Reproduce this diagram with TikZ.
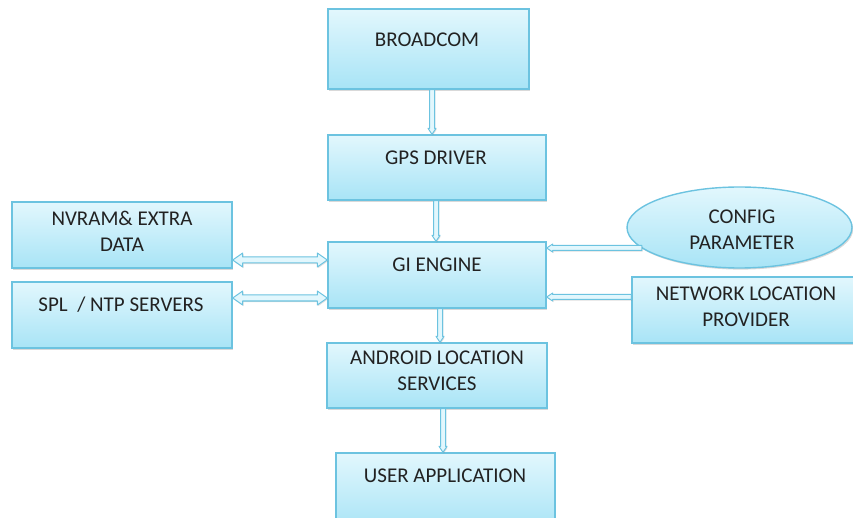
\documentclass[tikz,border=0pt]{standalone}
\usepackage{fontspec}
\setmainfont{Carlito}
\usetikzlibrary{shapes.geometric,shadows,calc}
\definecolor{bordc}{HTML}{6CC3E0}
\definecolor{topc}{HTML}{E2F7FD}
\definecolor{botc}{HTML}{A8E4F6}
\definecolor{txtc}{HTML}{222222}
\tikzset{
  box/.style={draw=bordc, line width=1.4pt, top color=topc, bottom color=botc, inner sep=0pt,
    drop shadow={shadow xshift=1.2pt,shadow yshift=-1.6pt,opacity=0.3}},
  lbl/.style={font=\fontsize{21}{26}\selectfont, text=txtc, align=center, inner sep=0pt},
  conn/.style={draw=bordc, line width=1pt, fill=topc, line join=round,
    drop shadow={shadow xshift=0.8pt,shadow yshift=-1.2pt,opacity=0.25}}
}
% vertical connector: x (screen px), from node, to node
\newcommand\vconn[3]{%
  \path[conn] let \p1=(#2.south), \p2=(#3.north) in
    ({(#1-2.5)*1pt},\y1) -- ({(#1+2.5)*1pt},\y1) -- ({(#1+2.5)*1pt},{\y2+6pt})
    -- ({(#1+4)*1pt},{\y2+6pt}) -- ({#1*1pt},\y2) -- ({(#1-4)*1pt},{\y2+6pt})
    -- ({(#1-2.5)*1pt},{\y2+6pt}) -- cycle;}
% horizontal double-headed block arrow: y (screen px), left node, right node
\newcommand\hdouble[3]{%
  \path[conn] let \p1=(#2.east), \p2=(#3.west), \n1={-#1*1pt} in
    (\x1,\n1) -- ({\x1+10pt},{\n1+7pt}) -- ({\x1+10pt},{\n1+3pt}) -- ({\x2-10pt},{\n1+3pt})
    -- ({\x2-10pt},{\n1+7pt}) -- (\x2,\n1) -- ({\x2-10pt},{\n1-7pt}) -- ({\x2-10pt},{\n1-3pt})
    -- ({\x1+10pt},{\n1-3pt}) -- ({\x1+10pt},{\n1-7pt}) -- cycle;}
% horizontal connector with head pointing left into node #2, from point #3
\newcommand\hleft[3]{%
  \path[conn] let \p1=(#2.east), \p2=(#3), \n1={-#1*1pt} in
    (\x1,\n1) -- ({\x1+6pt},{\n1+4pt}) -- ({\x1+6pt},{\n1+2.5pt}) -- (\x2,{\n1+2.5pt})
    -- (\x2,{\n1-2.5pt}) -- ({\x1+6pt},{\n1-2.5pt}) -- ({\x1+6pt},{\n1-4pt}) -- cycle;}
\begin{document}
\begin{tikzpicture}[x=1pt,y=-1pt]
\useasboundingbox (0,0) rectangle (853,518);
% boxes
\node[box, minimum width=201pt, minimum height=80pt] (bc)  at (428.5,49) {};
\node[box, minimum width=218pt, minimum height=65pt] (gps) at (437,167.5) {};
\node[box, minimum width=218pt, minimum height=66pt] (gi)  at (437,275) {};
\node[box, minimum width=220pt, minimum height=66pt] (nv)  at (122,235) {};
\node[box, minimum width=220pt, minimum height=66pt] (spl) at (122,315) {};
\node[box, ellipse, minimum width=225pt, minimum height=81pt] (cfg) at (739.5,227.5) {};
\node[box, minimum width=223pt, minimum height=66pt] (net) at (743.5,310) {};
\node[box, minimum width=220pt, minimum height=65pt] (and) at (437,375.5) {};
\node[box, minimum width=219pt, minimum height=77pt] (usr) at (445.5,491.5) {};
% labels
\node[lbl] (tbc)  at (427,40)  {BROADCOM};
\node[lbl] (tgps) at (436,158) {GPS DRIVER};
\node[lbl] (tgi)  at (437,265) {GI ENGINE};
\node[lbl] (tnv)  at (122,231) {NVRAM\&{} EXTRA\\DATA};
\node[lbl] (tspl) at (121,305) {SPL\ \ / NTP SERVERS};
\node[lbl] (tcfg) at (742,230) {CONFIG\\PARAMETER};
\node[lbl] (tnet) at (746,307) {NETWORK LOCATION\\PROVIDER};
\node[lbl] (tand) at (437,371) {ANDROID LOCATION\\SERVICES};
\node[lbl] (tusr) at (445,476) {USER APPLICATION};
% connectors
\vconn{432}{bc}{gps}
\vconn{436}{gps}{gi}
\vconn{440}{gi}{and}
\vconn{443}{and}{usr}
\hdouble{260}{nv}{gi}
\hdouble{298}{spl}{gi}
\hleft{248}{gi}{cfg.192}
\hleft{297}{gi}{net.west}
\end{tikzpicture}
\end{document}
